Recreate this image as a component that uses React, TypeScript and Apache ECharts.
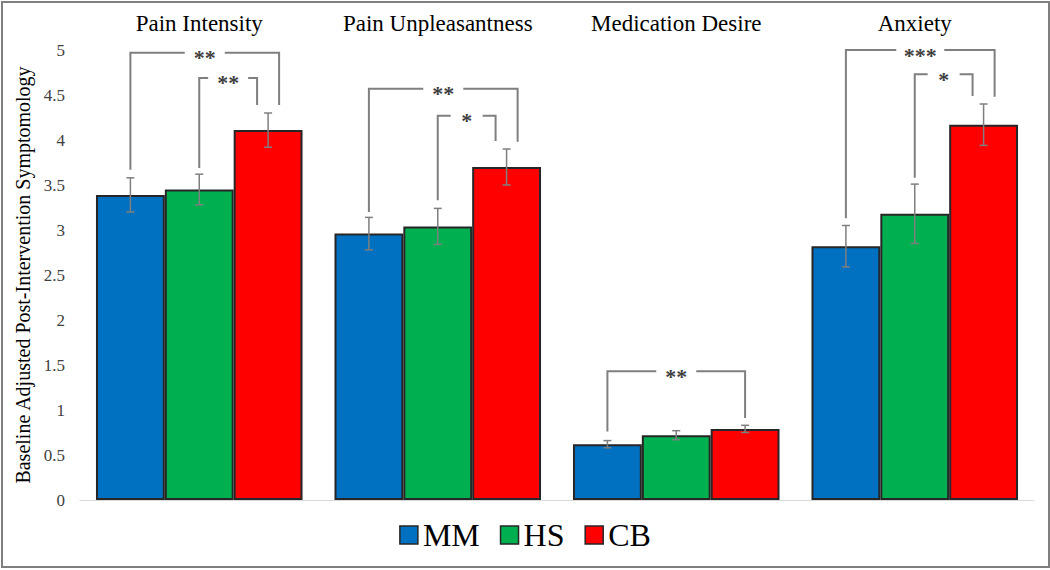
import React, { useEffect, useRef } from "react";
import * as echarts from "echarts";

const categories = ["Pain Intensity", "Pain Unpleasantness", "Medication Desire", "Anxiety"];
const seriesNames = ["MM", "HS", "CB"];
const mmValues = [3.39, 2.96, 0.62, 2.82];
const hsValues = [3.45, 3.04, 0.72, 3.18];
const cbValues = [4.11, 3.7, 0.79, 4.17];
const mmErr = [0.19, 0.18, 0.04, 0.23];
const hsErr = [0.17, 0.2, 0.05, 0.33];
const cbErr = [0.19, 0.2, 0.04, 0.23];
const yTicks = [0, 0.5, 1, 1.5, 2, 2.5, 3, 3.5, 4, 4.5, 5];

// significance brackets
const bracketCats = [0, 0, 1, 1, 2, 3, 3];
const bracketFrom = [0, 1, 0, 1, 0, 0, 1];
const bracketTo = [2.16, 1.84, 2.16, 1.84, 2, 2.16, 1.84];
const bracketTop = [4.97, 4.69, 4.57, 4.27, 1.43, 5.0, 4.73];
const bracketLeftEnd = [3.67, 3.69, 3.2, 3.33, 0.76, 3.13, 3.58];
const bracketRightEnd = [4.39, 4.39, 3.98, 3.99, 0.91, 4.48, 4.49];
const bracketLabels = ["**", "**", "**", "*", "**", "***", "*"];

const COLORS = ["#0070C0", "#00B050", "#FF0000"];
const GAP = 0.134;
const FONT = "Liberation Serif";

export default function App() {
  const ref = useRef<HTMLDivElement>(null);
  useEffect(() => {
    if (!ref.current) return;
    const chart = echarts.init(ref.current, null, { renderer: "svg" });
    const values = [mmValues, hsValues, cbValues];
    const errs = [mmErr, hsErr, cbErr];

    const errData: number[][] = [];
    values.forEach((vals, s) => {
      vals.forEach((v, c) => {
        errData.push([c, s, v - errs[s][c], v + errs[s][c]]);
      });
    });

    const brData = bracketCats.map((c, i) => [
      c,
      bracketFrom[i],
      bracketTo[i],
      bracketTop[i],
      bracketLeftEnd[i],
      bracketRightEnd[i],
    ]);

    const barSeries = seriesNames.map((name, s) => ({
      name,
      type: "bar",
      data: values[s],
      barGap: "0%",
      barCategoryGap: GAP * 100 + "%",
      itemStyle: { color: COLORS[s], borderColor: "#262626", borderWidth: 2 },
      xAxisIndex: 0,
      yAxisIndex: 0,
    }));

    const option: any = {
      animation: false,
      grid: { left: 80, right: 16, top: 50, bottom: 70 },
      legend: {
        data: seriesNames,
        bottom: 14,
        left: "center",
        icon: "rect",
        itemWidth: 18,
        itemHeight: 18,
        itemGap: 20,
        selectedMode: false,
        textStyle: { fontFamily: FONT, fontSize: 32, color: "#000" },
        itemStyle: { borderColor: "#262626", borderWidth: 1.5 },
      },
      xAxis: [
        {
          type: "category",
          data: categories,
          position: "bottom",
          axisLine: { show: true, lineStyle: { color: "#d9d9d9", width: 1 } },
          axisTick: { show: false },
          axisLabel: { show: false },
        },
        {
          type: "category",
          data: categories,
          position: "top",
          axisLine: { show: false },
          axisTick: { show: false },
          axisLabel: {
            show: true,
            interval: 0,
            hideOverlap: false,
            fontFamily: FONT,
            fontSize: 23,
            color: "#000",
            margin: 15,
          },
        },
      ],
      yAxis: {
        type: "value",
        min: 0,
        max: 5,
        interval: 0.5,
        axisLine: { show: false },
        axisTick: { show: false },
        splitLine: { show: false },
        axisLabel: {
          fontFamily: FONT,
          fontSize: 17,
          color: "#404040",
          margin: 15,
          formatter: (v: number) => (yTicks.includes(v) ? String(v) : ""),
        },
        name: "Baseline Adjusted Post-Intervention Symptomology",
        nameLocation: "middle",
        nameGap: 29,
        nameTextStyle: { fontFamily: FONT, fontSize: 20, color: "#000" },
      },
      series: [
        ...barSeries,
        {
          type: "custom",
          name: "err",
          xAxisIndex: 0,
          yAxisIndex: 0,
          z: 5,
          data: errData,
          encode: { x: 0, y: [2, 3] },
          renderItem: (params: any, api: any) => {
            const cat = api.value(0);
            const bar = api.value(1);
            const band = api.size([1, 0])[0];
            const bw = (band * (1 - GAP)) / 3;
            const pLo = api.coord([cat, api.value(2)]);
            const pHi = api.coord([cat, api.value(3)]);
            const x = pLo[0] + (bar - 1) * bw;
            const cap = 4;
            const st = { stroke: "#7f7f7f", lineWidth: 1.5 };
            return {
              type: "group",
              children: [
                { type: "line", shape: { x1: x, y1: pLo[1], x2: x, y2: pHi[1] }, style: st },
                { type: "line", shape: { x1: x - cap, y1: pLo[1], x2: x + cap, y2: pLo[1] }, style: st },
                { type: "line", shape: { x1: x - cap, y1: pHi[1], x2: x + cap, y2: pHi[1] }, style: st },
              ],
            };
          },
        },
        {
          type: "custom",
          name: "sig",
          xAxisIndex: 0,
          yAxisIndex: 0,
          z: 6,
          clip: false,
          data: brData,
          encode: { x: 0, y: [3, 4, 5] },
          renderItem: (params: any, api: any) => {
            const cat = api.value(0);
            const from = api.value(1);
            const to = api.value(2);
            const band = api.size([1, 0])[0];
            const bw = (band * (1 - GAP)) / 3;
            const pTop = api.coord([cat, api.value(3)]);
            const pL = api.coord([cat, api.value(4)]);
            const pR = api.coord([cat, api.value(5)]);
            const xL = pTop[0] + (from - 1) * bw;
            const xR = pTop[0] + (to - 1) * bw;
            const xM = (xL + xR) / 2;
            const label = bracketLabels[params.dataIndex];
            const g = 12 + 4 * label.length;
            const st = { stroke: "#7f7f7f", lineWidth: 2, fill: null };
            return {
              type: "group",
              children: [
                {
                  type: "polyline",
                  shape: { points: [[xL, pL[1]], [xL, pTop[1]], [xM - g, pTop[1]]] },
                  style: st,
                },
                {
                  type: "polyline",
                  shape: { points: [[xM + g, pTop[1]], [xR, pTop[1]], [xR, pR[1]]] },
                  style: st,
                },
                {
                  type: "text",
                  style: {
                    text: label,
                    x: xM,
                    y: pTop[1] + 5,
                    textAlign: "center",
                    textVerticalAlign: "middle",
                    fontFamily: FONT,
                    fontSize: 22,
                    fontWeight: "bold",
                    fill: "#404040",
                  },
                },
              ],
            };
          },
        },
      ],
      graphic: [
        {
          type: "rect",
          shape: { x: 2, y: 2, width: 1047, height: 565 },
          style: { fill: "none", stroke: "#7f7f7f", lineWidth: 2 },
          silent: true,
        },
      ],
    };
    chart.setOption(option);
    return () => chart.dispose();
  }, []);
  return (
    <div
      ref={ref}
      style={{ position: "fixed", left: 0, top: 0, width: 1050, height: 570, background: "#fff" }}
    />
  );
}
